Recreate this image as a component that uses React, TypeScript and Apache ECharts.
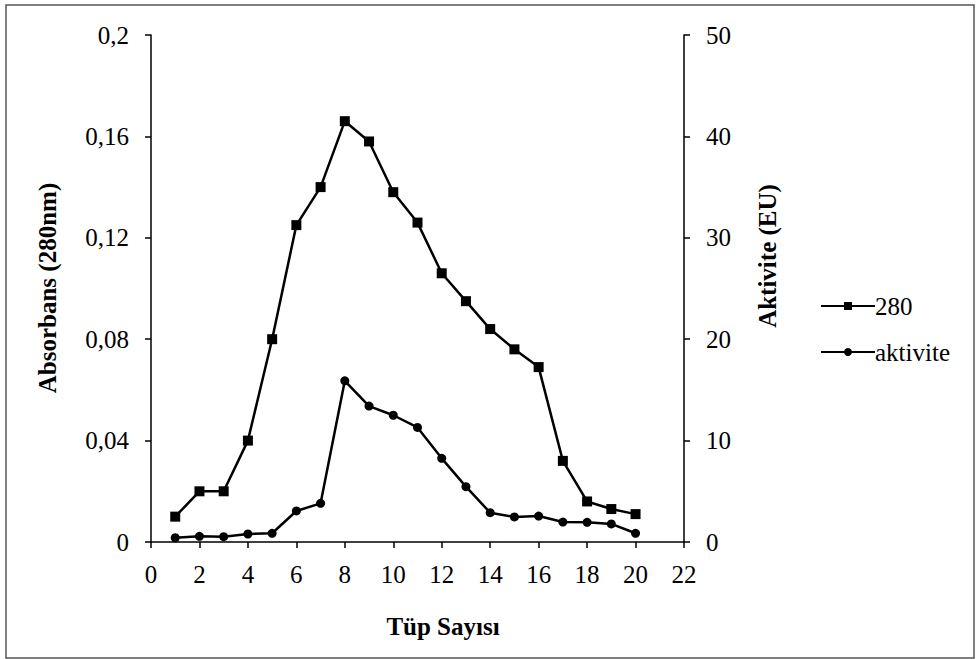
import React, { useEffect, useRef } from "react";
import * as echarts from "echarts";

const tubes = [1, 2, 3, 4, 5, 6, 7, 8, 9, 10, 11, 12, 13, 14, 15, 16, 17, 18, 19, 20];
const absorbans280 = [0.01, 0.02, 0.02, 0.04, 0.08, 0.125, 0.14, 0.166, 0.158, 0.138, 0.126, 0.106, 0.095, 0.084, 0.076, 0.069, 0.032, 0.016, 0.013, 0.011];
const aktivite = [0.42, 0.56, 0.52, 0.79, 0.86, 3.06, 3.81, 15.9, 13.4, 12.5, 11.3, 8.25, 5.46, 2.89, 2.47, 2.56, 1.97, 1.94, 1.78, 0.86];
const seriesNames = ["280", "aktivite"];
const xTitle = "Tüp Sayısı";
const yLeftTitle = "Absorbans (280nm)";
const yRightTitle = "Aktivite (EU)";

const FONT = "Liberation Serif";

export default function App() {
  const ref = useRef<HTMLDivElement>(null);
  useEffect(() => {
    if (!ref.current) return;
    const chart = echarts.init(ref.current, undefined, { renderer: "svg" });
    const axisCommon = {
      axisLine: { show: true, lineStyle: { color: "#000", width: 1.5 } },
      axisTick: { show: true, inside: false, length: 6, lineStyle: { color: "#000", width: 1.5 } },
      splitLine: { show: false },
      axisLabel: { color: "#000", fontFamily: FONT, fontSize: 25 },
    };
    chart.setOption({
      animation: false,
      backgroundColor: "#fff",
      textStyle: { fontFamily: FONT, color: "#000" },
      grid: { left: 151, right: 292, top: 35, bottom: 117, containLabel: false },
      xAxis: {
        type: "value",
        min: 0,
        max: 22,
        interval: 2,
        ...axisCommon,
        axisLabel: { ...axisCommon.axisLabel, margin: 20 },
      },
      yAxis: [
        {
          type: "value",
          position: "left",
          min: 0,
          max: 0.2,
          interval: 0.04,
          ...axisCommon,
          axisLabel: {
            ...axisCommon.axisLabel,
            margin: 22,
            formatter: (v: number) => String(Number(v.toFixed(2))).replace(".", ","),
          },
        },
        {
          type: "value",
          position: "right",
          min: 0,
          max: 50,
          interval: 10,
          ...axisCommon,
          axisLabel: { ...axisCommon.axisLabel, margin: 22 },
        },
      ],
      legend: {
        orient: "vertical",
        left: 815,
        top: 288,
        itemWidth: 54,
        itemHeight: 10,
        itemGap: 20,
        formatter: "{s|{name}}",
        textStyle: {
          color: "#000",
          fontFamily: FONT,
          fontSize: 25,
          lineHeight: 26,
          padding: [0, 0, 0, -5],
          rich: { s: { fontFamily: FONT, fontSize: 25, lineHeight: 26, color: "#000" } },
        },
        data: seriesNames,
      },
      graphic: [
        {
          type: "rect",
          shape: { x: 6, y: 5, width: 968, height: 653 },
          style: { fill: "none", stroke: "#555", lineWidth: 1.5 },
          silent: true,
        },
        {
          type: "text",
          x: 47,
          y: 288,
          rotation: Math.PI / 2,
          style: { text: yLeftTitle, fontFamily: FONT, fontWeight: "bold", fontSize: 25, fill: "#000", align: "center", verticalAlign: "middle" },
        },
        {
          type: "text",
          x: 767,
          y: 256,
          rotation: Math.PI / 2,
          style: { text: yRightTitle, fontFamily: FONT, fontWeight: "bold", fontSize: 25, fill: "#000", align: "center", verticalAlign: "middle" },
        },
        {
          type: "text",
          x: 443,
          y: 626,
          style: { text: xTitle, fontFamily: FONT, fontWeight: "bold", fontSize: 25, fill: "#000", align: "center", verticalAlign: "middle" },
        },
      ],
      series: [
        {
          name: seriesNames[0],
          type: "line",
          yAxisIndex: 0,
          data: tubes.map((t, i) => [t, absorbans280[i]]),
          symbol: "rect",
          symbolSize: 10,
          lineStyle: { color: "#000", width: 2.5 },
          itemStyle: { color: "#000" },
        },
        {
          name: seriesNames[1],
          type: "line",
          yAxisIndex: 1,
          data: tubes.map((t, i) => [t, aktivite[i]]),
          symbol: "circle",
          symbolSize: 9,
          lineStyle: { color: "#000", width: 2.5 },
          itemStyle: { color: "#000" },
        },
      ],
    });
    return () => chart.dispose();
  }, []);
  return <div ref={ref} style={{ position: "fixed", left: 0, top: 0, width: 976, height: 659 }} />;
}
